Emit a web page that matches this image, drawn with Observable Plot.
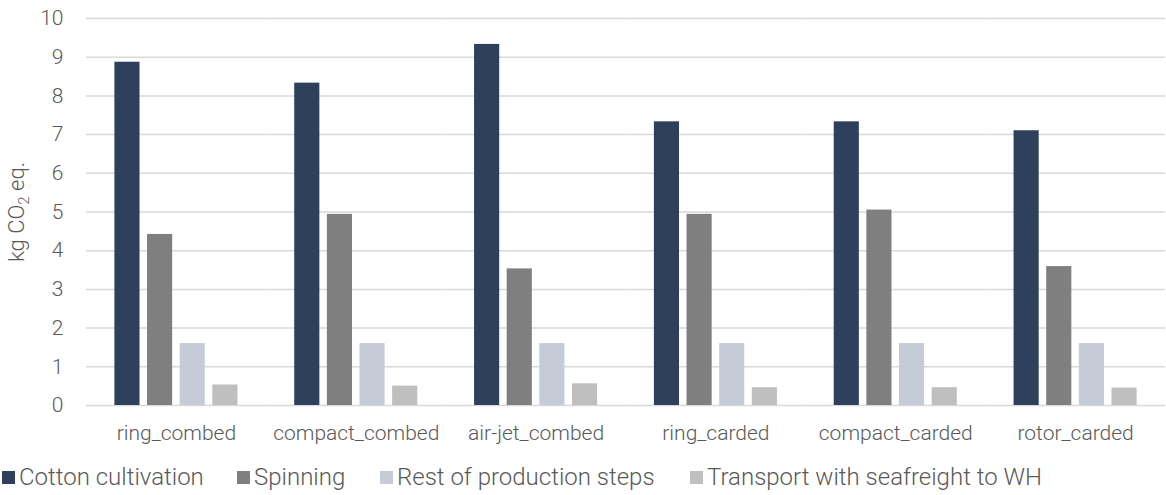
<!DOCTYPE html>
<html>
<head>
<meta charset="utf-8">
<script src="https://cdn.jsdelivr.net/npm/d3@7"></script>
<script src="https://cdn.jsdelivr.net/npm/@observablehq/plot@0.6"></script>
<style>
  body { margin: 0; background: #fff; }
  #wrap { position: relative; width: 1166px; height: 495px; font-family: Roboto, "Liberation Sans", sans-serif; font-weight: 300; color: #595959; }
  #legend { position: absolute; left: 0; top: 462px; width: 1166px; height: 30px; font-size: 24px; line-height: 30px; white-space: nowrap; }
  #legend .item { position: absolute; top: 0; display: flex; align-items: center; }
  #legend .sw { width: 13px; height: 13px; margin-right: 4px; }
</style>
</head>
<body>
<div id="wrap"><div id="chart"></div><div id="legend"></div></div>
<script>
// Yarn types (x groups) and life-cycle stages (bars within each group)
const yarns = ["ring_combed", "compact_combed", "air-jet_combed", "ring_carded", "compact_carded", "rotor_carded"];
const stages = ["Cotton cultivation", "Spinning", "Rest of production steps", "Transport with seafreight to WH"];
const stageColors = ["#2e405b", "#7f7f7f", "#c5ccd8", "#bfbfbf"];

// kg CO2 eq. per stage, in the order of `yarns`
const cottonCultivation = [8.87, 8.33, 9.33, 7.33, 7.33, 7.10];
const spinning          = [4.42, 4.94, 3.53, 4.94, 5.05, 3.59];
const restOfProduction  = [1.60, 1.60, 1.60, 1.60, 1.60, 1.60];
const transport         = [0.53, 0.50, 0.56, 0.46, 0.46, 0.45];

const yTicks = [0, 1, 2, 3, 4, 5, 6, 7, 8, 9, 10];

const series = [cottonCultivation, spinning, restOfProduction, transport];
const rows = [];
yarns.forEach((yarn, i) => {
  stages.forEach((stage, j) => rows.push({yarn, stage, value: series[j][i]}));
});

const chart = Plot.plot({
  width: 1166,
  height: 458,
  marginLeft: 86,
  marginRight: 1,
  marginTop: 18,
  marginBottom: 53,
  style: {fontFamily: "Roboto, 'Liberation Sans', sans-serif", fontSize: "21px", fontWeight: 300, color: "#595959", background: "#fff", overflow: "visible"},
  fx: {domain: yarns, padding: 0, round: false, label: null, axis: "bottom", tickSize: 0, tickPadding: 20},
  x: {domain: stages, paddingInner: 0.23, paddingOuter: 0.87, round: false, axis: null},
  y: {domain: [0, 10], ticks: yTicks, tickSize: 0, tickPadding: 23, label: null},
  color: {domain: stages, range: stageColors},
  marks: [
    Plot.gridY(yTicks, {stroke: "#d9d9d9", strokeOpacity: 1, strokeWidth: 1.5}),
    Plot.barY(rows, {fx: "yarn", x: "stage", y: "value", fill: "stage"})
  ]
});
document.getElementById("chart").appendChild(chart);

// Rotated y-axis title with a subscript 2
const yTitle = d3.select(chart).append("text")
  .attr("transform", "translate(24,212) rotate(-90)")
  .attr("text-anchor", "middle")
  .attr("fill", "#595959")
  .style("font-size", "22px");
yTitle.append("tspan").text("kg CO");
yTitle.append("tspan").attr("dy", 5).style("font-size", "15px").text("2");
yTitle.append("tspan").attr("dy", -5).text(" eq.");

// Legend below the chart
const legendLeft = [2, 237, 380, 690];
const legend = d3.select("#legend");
stages.forEach((s, i) => {
  const item = legend.append("div").attr("class", "item").style("left", legendLeft[i] + "px");
  item.append("div").attr("class", "sw").style("background", stageColors[i]);
  item.append("span").text(s);
});
</script>
</body>
</html>
